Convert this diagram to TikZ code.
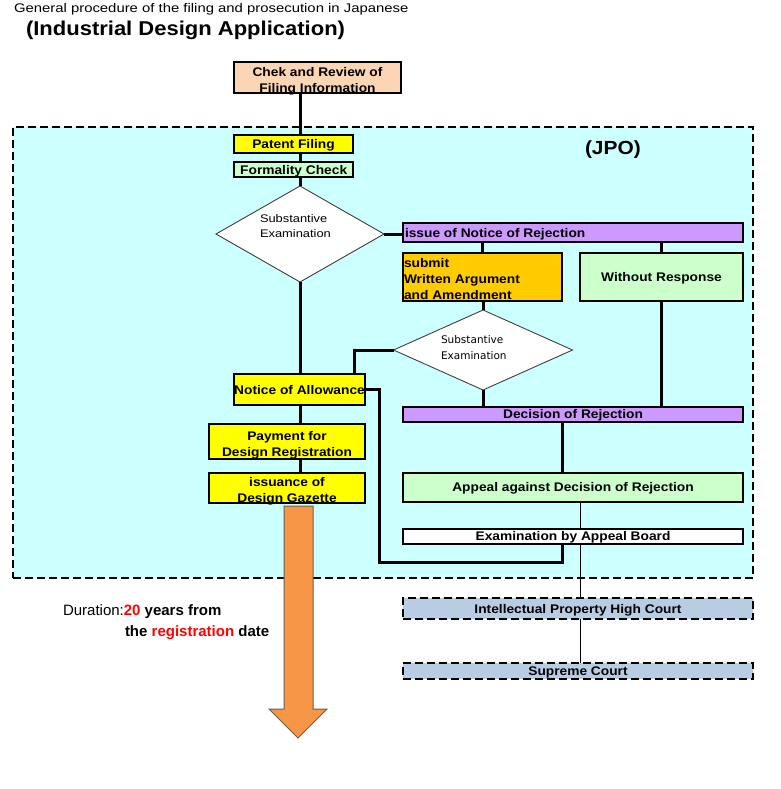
\documentclass[tikz,border=0pt]{standalone}
\usepackage{fontspec}
\setmainfont{Liberation Sans}
\newfontfamily\lbfam{Liberation Sans}[FakeStretch=1.1]
\newfontfamily\rgfam{Liberation Sans}[FakeStretch=1.17]
\newfontfamily\tonefam{Liberation Sans}[FakeStretch=1.19]
\newfontfamily\dvfam{DejaVu Sans}
\usetikzlibrary{shapes.geometric}
\newcommand\lblfont{\lbfam\bfseries\fontsize{12.5}{16}\selectfont}
\definecolor{peach}{HTML}{FCD5B4}
\definecolor{yel}{HTML}{FFFF00}
\definecolor{lgreen}{HTML}{CCFFCC}
\definecolor{lpurple}{HTML}{CC99FF}
\definecolor{gold}{HTML}{FFCC00}
\definecolor{cyanbg}{HTML}{CCFFFF}
\definecolor{courtbg}{HTML}{B8CCE4}
\definecolor{arrowor}{HTML}{F79646}
\definecolor{arrowedge}{HTML}{6E5E50}
\definecolor{redt}{HTML}{FF0000}
\definecolor{dgray}{HTML}{404040}
\begin{document}
\begin{tikzpicture}[x=1pt,y=-1pt,
  box/.style={draw=black, line width=2pt, inner sep=0pt, outer sep=0pt, font=\lblfont, align=center},
  oneline/.style={text height=9pt, text depth=0pt},
  courtbox/.style={box, oneline, fill=courtbg, dash pattern=on 8pt off 4pt},
  decide/.style={diamond, draw=dgray, line width=0.9pt, fill=white, inner sep=0pt, outer sep=0pt},
  conn/.style={line width=3pt},
  thinconn/.style={line width=1pt},
  txt/.style={inner sep=0pt, outer sep=0pt}]
\fill[white] (0,0) rectangle (780,789);
\useasboundingbox (0,0) rectangle (780,789);

% titles
\node[txt, anchor=west, font=\tonefam\fontsize{12.5}{14}\selectfont] (title1) at (14,9.3) {General procedure of the filing and prosecution in Japanese};
\node[txt, anchor=west, font=\lbfam\bfseries\fontsize{20}{24}\selectfont] (title2) at (26,30.7) {(Industrial Design Application)};

% JPO area
\node[draw=black, fill=cyanbg, line width=2.4pt, dash pattern=on 8pt off 4pt, inner sep=0pt, minimum width=740, minimum height=451] (jpo) at (383,352.5) {};
\node[txt, anchor=west, font=\lbfam\bfseries\fontsize{19}{22}\selectfont] (jpolbl) at (585,150) {(JPO)};

% coordinates for connector lanes
\coordinate (spine) at (300,0);
\coordinate (nx) at (354,0);
\coordinate (ax) at (562,0);
\coordinate (cx) at (580.7,0);
\coordinate (lp) at (379,562);

% boxes
\node[box, fill=peach, minimum width=167, minimum height=31] (chek) at (317.5,77.5) {};
\node[txt, align=center, font=\lblfont] (chekt) at (317.5,81) {Chek and Review of\\Filing Information};
\node[box, oneline, fill=yel, minimum width=119, minimum height=18] (pat) at (293.5,144) {Patent Filing};
\node[box, oneline, fill=lgreen, minimum width=119.5, minimum height=15] (form) at (293.7,169.5) {Formality Check};
\node[decide, minimum width=168, minimum height=96] (d1) at (300,234) {};
\node[txt, anchor=west, align=left, font=\rgfam\fontsize{11}{15}\selectfont] (d1t) at (260,226.5) {Substantive\\Examination};
\node[box, fill=lpurple, minimum width=340, minimum height=19] (issue) at (573,232.5) {};
\node[txt, oneline, anchor=west, font=\lblfont] (issuet) at (405,233) {issue of Notice of Rejection};
\node[box, fill=gold, minimum width=159, minimum height=48] (submit) at (482.5,276.7) {};
\node[txt, anchor=west, align=left, font=\lblfont] (submitt) at (404,279.5) {submit\\Written Argument\\and Amendment};
\node[box, oneline, fill=lgreen, minimum width=163, minimum height=48] (without) at (661.5,276.7) {Without Response};
\node[decide, minimum width=179, minimum height=80] (d2) at (483,350) {};
\node[txt, anchor=west, align=left, font=\dvfam\fontsize{10.5}{15.5}\selectfont] (d2t) at (441,347.5) {Substantive\\Examination};
\node[box, oneline, fill=yel, minimum width=131, minimum height=31] (notice) at (299.5,389.5) {Notice of Allowance};
\node[box, oneline, fill=lpurple, minimum width=340, minimum height=15] (decision) at (573,414) {Decision of Rejection};
\node[box, fill=yel, minimum width=156, minimum height=35] (payment) at (287,441.5) {};
\node[txt, align=center, font=\lblfont] (paymentt) at (287,445) {Payment for\\Design Registration};
\node[box, fill=yel, minimum width=156, minimum height=30] (issuance) at (287,488) {};
\node[txt, align=center, font=\lblfont] (issuancet) at (287,491.5) {issuance of\\Design Gazette};
\node[box, oneline, fill=lgreen, minimum width=340, minimum height=29] (appeal) at (573,487.3) {Appeal against Decision of Rejection};
\node[box, oneline, fill=white, minimum width=340, minimum height=14.5] (exam) at (573,536.3) {Examination by Appeal Board};
\node[courtbox, minimum width=350, minimum height=21] (ip) at (578,608.5) {Intellectual Property High Court};
\node[courtbox, minimum width=350, minimum height=16] (sup) at (578,671) {Supreme Court};

% connectors
\draw[conn] (chek.south -| spine) -- (pat.north -| spine);
\draw[conn] (pat.south -| spine) -- (form.north -| spine);
\draw[conn] (form.south -| spine) -- (d1.north);
\draw[conn] (d1.south) -- (notice.north -| spine);
\draw[conn] (notice.south -| spine) -- (payment.north -| spine);
\draw[conn] (payment.south -| spine) -- (issuance.north -| spine);
\draw[conn] (d1.east) -- (issue.west |- d1.east);
\draw[conn] (issue.south -| submit) -- (submit.north);
\draw[conn] (issue.south -| without) -- (without.north);
\draw[conn] (submit.south -| d2.north) -- (d2.north);
\draw[conn] (d2.south) -- (d2.south |- decision.north);
\draw[conn] (without.south) -- (without.south |- decision.north);
\draw[conn] (d2.west) -| (nx |- notice.north);
\draw[conn] (decision.south -| ax) -- (appeal.north -| ax);
\draw[conn] (notice.east) -| (lp) -| (exam.south -| ax);
\draw[thinconn] (appeal.south -| cx) -- (exam.north -| cx);
\draw[thinconn] (exam.south -| cx) -- (ip.north -| cx);
\draw[thinconn] (ip.south -| cx) -- (sup.north -| cx);

% duration arrow
\draw[fill=arrowor, draw=arrowedge, line width=1pt] (284,506) -- (313,506) -- (313,709) -- (327,709) -- (298,738) -- (269,709) -- (284,709) -- cycle;

% duration text
\node[txt, anchor=base west, font=\fontsize{15}{18}\selectfont] (dur1) at (63,615) {Duration:\textcolor{redt}{\bfseries 20}\bfseries\ years from};
\node[txt, anchor=base west, font=\bfseries\fontsize{15}{18}\selectfont] (dur2) at (125,636) {the \textcolor{redt}{registration} date};
\end{tikzpicture}
\end{document}
